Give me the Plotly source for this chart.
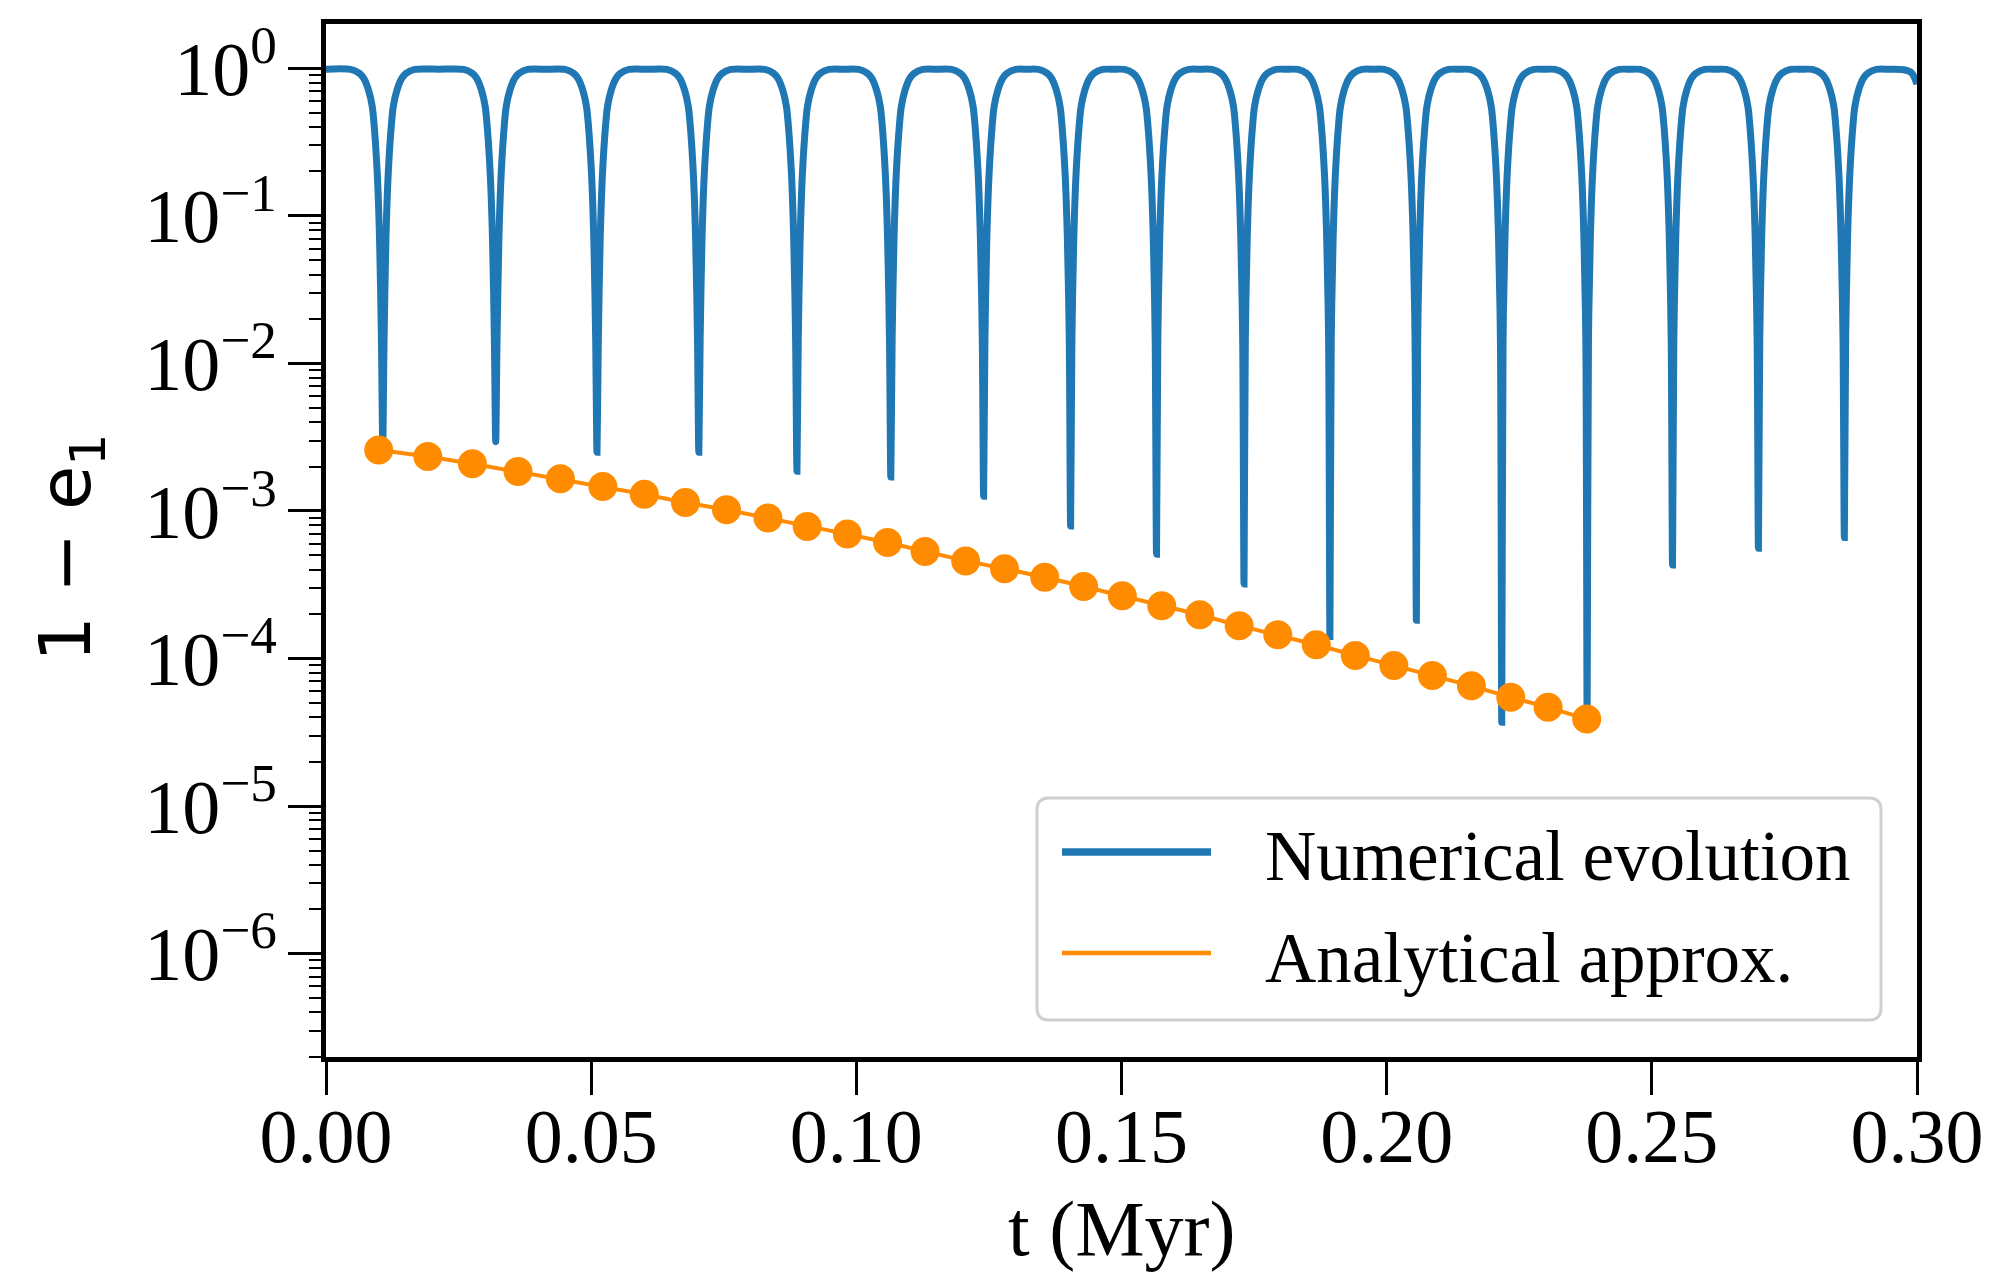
import plotly.graph_objects as go

# ---------------- data ----------------
# Numerical evolution: times (Myr) and depths (1 - e1) of the sharp minima
dip_t = [0.0107, 0.0320, 0.0511, 0.0703, 0.0888, 0.1065, 0.1240, 0.1404, 0.1566,
         0.1731, 0.1893, 0.2056, 0.2217, 0.2378, 0.2539, 0.2701, 0.2863]
dip_val = [2.9e-3, 2.95e-3, 2.5e-3, 2.5e-3, 1.86e-3, 1.7e-3, 1.26e-3, 7.9e-4, 5.1e-4,
           3.2e-4, 1.41e-4, 1.82e-4, 3.7e-5, 4.0e-5, 4.3e-4, 5.6e-4, 6.6e-4]
# shape of the curve beside a minimum:
# time offset from the minimum (Myr) and the value of 1 - e1 there
profile_dt = [0.00025, 0.00060, 0.00104, 0.00166, 0.00198, 0.00268, 0.00358, 0.00439, 0.00604]
profile_val = [0.0145, 0.069, 0.195, 0.427, 0.55, 0.711, 0.855, 0.923, 0.982]
top_val = 0.985  # value at the top of each arch (midway between minima)
# curve at the right edge of the panel
tail_t = [0.2975, 0.2990, 0.3000]
tail_val = [0.978, 0.93, 0.78]

# Analytical approximation (orange points)
ana_t = [0.00994, 0.01920, 0.02761, 0.03621, 0.04420, 0.05220, 0.06002, 0.06777,
         0.07552, 0.08334, 0.09073, 0.09831, 0.10589, 0.11296, 0.12062, 0.12795,
         0.13553, 0.14287, 0.15015, 0.15758, 0.16476, 0.17219, 0.17947, 0.18673,
         0.19408, 0.20136, 0.20862, 0.21598, 0.22340, 0.23044, 0.23772]
ana_val = [2.594e-3, 2.339e-3, 2.089e-3, 1.849e-3, 1.652e-3, 1.466e-3, 1.300e-3,
           1.140e-3, 1.019e-3, 8.95e-4, 7.85e-4, 6.97e-4, 6.11e-4, 5.31e-4, 4.59e-4,
           4.06e-4, 3.56e-4, 3.08e-4, 2.66e-4, 2.28e-4, 1.98e-4, 1.67e-4, 1.45e-4,
           1.24e-4, 1.05e-4, 8.97e-5, 7.67e-5, 6.53e-5, 5.46e-5, 4.67e-5, 3.89e-5]

x_ticks = [0.00, 0.05, 0.10, 0.15, 0.20, 0.25, 0.30]
x_ticklabels = ["0.00", "0.05", "0.10", "0.15", "0.20", "0.25", "0.30"]
y_ticks = [1e-6, 1e-5, 1e-4, 1e-3, 1e-2, 1e-1, 1e0]
y_ticklabels = ["10<sup>\u22126</sup>", "10<sup>\u22125</sup>", "10<sup>\u22124</sup>",
                "10<sup>\u22123</sup>", "10<sup>\u22122</sup>", "10<sup>\u22121</sup>",
                "10<sup>0</sup>"]
legend_labels = ["Numerical evolution", "Analytical approx."]

# ---------------- build the numerical curve from the read values ----------------
num_t = [0.0]
num_v = [top_val]
n = len(dip_t)
for i in range(n):
    h_left = dip_t[0] if i == 0 else (dip_t[i] - dip_t[i - 1]) / 2
    for d, v in zip(reversed(profile_dt), reversed(profile_val)):
        if d < h_left:
            num_t.append(dip_t[i] - d)
            num_v.append(v)
    num_t.append(dip_t[i])
    num_v.append(dip_val[i])
    h_right = (dip_t[i + 1] - dip_t[i]) / 2 if i < n - 1 else h_left
    for d, v in zip(profile_dt, profile_val):
        if d < h_right:
            num_t.append(dip_t[i] + d)
            num_v.append(v)
    num_t.append(dip_t[i] + h_right)
    num_v.append(top_val)
num_t += tail_t
num_v += tail_val

BLUE = "#1f77b4"
ORANGE = "#ff8c00"
SERIF = "Liberation Serif, Times New Roman, serif"

fig = go.Figure()
fig.add_trace(go.Scatter(x=num_t, y=num_v, mode="lines", name=legend_labels[0],
                         line=dict(color=BLUE, width=7, shape="spline", smoothing=0.8),
                         showlegend=False))
fig.add_trace(go.Scatter(x=ana_t, y=ana_val, mode="lines+markers", name=legend_labels[1],
                         line=dict(color=ORANGE, width=4),
                         marker=dict(color=ORANGE, size=29, line=dict(width=0)),
                         showlegend=False))

W, H = 1999, 1273
L, R, T, B = 326, 82, 24, 216
pw, ph = W - L - R, H - T - B


def px(X):
    return (X - L) / pw


def py(Y):
    return (H - B - Y) / ph


minor_vals = [m * 10.0 ** k for k in range(-7, 1) for m in range(2, 10)]

fig.update_layout(
    width=W, height=H,
    margin=dict(l=L, r=R, t=T, b=B, pad=0),
    paper_bgcolor="white", plot_bgcolor="white",
    showlegend=False,
    xaxis=dict(range=[0, 0.30], tickvals=x_ticks, ticktext=x_ticklabels,
               ticks="outside", ticklen=33, tickwidth=3, tickcolor="black",
               showline=True, linewidth=5, linecolor="black", mirror=True,
               showgrid=False, zeroline=False,
               tickfont=dict(family=SERIF, size=76, color="black"),
               ticklabelstandoff=-24),
    yaxis=dict(type="log", range=[-6.70, 0.30], tickvals=y_ticks, ticktext=y_ticklabels,
               ticks="outside", ticklen=33, tickwidth=3, tickcolor="black",
               showline=True, linewidth=5, linecolor="black", mirror=True,
               showgrid=False, zeroline=False,
               tickfont=dict(family=SERIF, size=76, color="black"),
               minor=dict(tickvals=minor_vals, ticks="outside", ticklen=12,
                          tickwidth=2, tickcolor="black", showgrid=False),
               ticklabelstandoff=-4),
)

# ---------------- legend drawn by hand (long sample lines like the reference) --------
bx0, bx1, by0, by1 = 1037, 1881, 798, 1020
r = 12
rx, ry = r / pw, r / ph
X0, X1, Y0, Y1 = px(bx0), px(bx1), py(by0), py(by1)
path = (f"M{X0 + rx},{Y0} L{X1 - rx},{Y0} Q{X1},{Y0} {X1},{Y0 - ry} "
        f"L{X1},{Y1 + ry} Q{X1},{Y1} {X1 - rx},{Y1} L{X0 + rx},{Y1} "
        f"Q{X0},{Y1} {X0},{Y1 + ry} L{X0},{Y0 - ry} Q{X0},{Y0} {X0 + rx},{Y0} Z")
fig.add_shape(type="path", path=path, xref="paper", yref="paper",
              fillcolor="white", line=dict(color="#cfcfcf", width=3), layer="above")
fig.add_shape(type="line", xref="paper", yref="paper", x0=px(1062), x1=px(1211),
              y0=py(852), y1=py(852), line=dict(color=BLUE, width=7.5), layer="above")
fig.add_shape(type="line", xref="paper", yref="paper", x0=px(1062), x1=px(1211),
              y0=py(953), y1=py(953), line=dict(color=ORANGE, width=4.5), layer="above")
fig.add_annotation(x=px(1263), y=py(856), xref="paper", yref="paper",
                   text=legend_labels[0], showarrow=False, xanchor="left", yanchor="middle",
                   font=dict(family=SERIF, size=71, color="black"))
fig.add_annotation(x=px(1263), y=py(958), xref="paper", yref="paper",
                   text=legend_labels[1], showarrow=False, xanchor="left", yanchor="middle",
                   font=dict(family=SERIF, size=71, color="black"))

# ---------------- axis titles ----------------
fig.add_annotation(x=0.5, y=py(1228), xref="paper", yref="paper", text="t (Myr)",
                   showarrow=False, xanchor="center", yanchor="middle",
                   font=dict(family=SERIF, size=78, color="black"))
fig.add_annotation(x=px(70), y=py(548), xref="paper", yref="paper",
                   text="1 \u2212 e<sub>1</sub>", textangle=-90,
                   showarrow=False, xanchor="center", yanchor="middle",
                   font=dict(family="DejaVu Sans", size=72, color="black"))

fig.write_html("out.html", config={"displayModeBar": False},
               post_script="document.body.style.margin='0';document.body.style.overflow='hidden';")
